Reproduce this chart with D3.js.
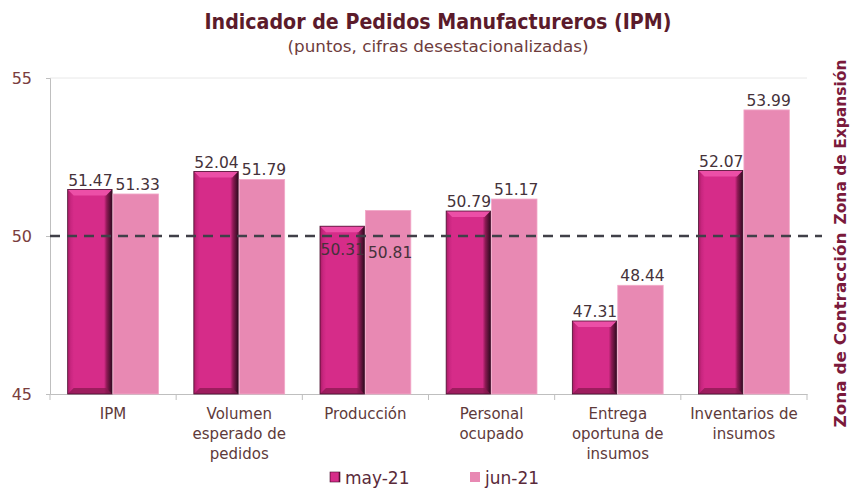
<!DOCTYPE html>
<html><head><meta charset="utf-8">
<script src="https://cdn.jsdelivr.net/npm/d3@7/dist/d3.min.js"></script>
<style>
body{margin:0;background:#fff;}
svg{display:block;font-family:"Century Gothic","DejaVu Sans",sans-serif;}
</style></head>
<body><svg id="c" width="851" height="488"></svg>
<script>
const categories = [["IPM"],["Volumen","esperado de","pedidos"],["Producción"],["Personal","ocupado"],["Entrega","oportuna de","insumos"],["Inventarios de","insumos"]];
const series = ["may-21","jun-21"];
const may21 = [51.47, 52.04, 50.31, 50.79, 47.31, 52.07];
const jun21 = [51.33, 51.79, 50.81, 51.17, 48.44, 53.99];
const yTicks = [45, 50, 55];
const threshold = 50;

const svg = d3.select("#c");
const pLeft = 50, pRight = 807, pTop = 78, pBottom = 394;
const keys = categories.map((c,i)=>"c"+i);
const x = d3.scaleBand().domain(keys).range([pLeft,pRight]).paddingInner(0.28).paddingOuter(0.14);
const xs = d3.scaleBand().domain(series).range([0,x.bandwidth()]).padding(0);
const y = d3.scaleLinear().domain([45,55]).range([pBottom,pTop]);

const defs = svg.append("defs");
const g1 = defs.append("linearGradient").attr("id","mayg").attr("x1","0").attr("x2","1").attr("y1","0").attr("y2","0");
[[0,"#a81d64"],[0.07,"#c92680"],[0.14,"#d62c89"],[0.82,"#d62c89"],[0.88,"#8e1a55"],[1,"#2e0a1e"]].forEach(([o,c])=>g1.append("stop").attr("offset",o).attr("stop-color",c));

// title
svg.append("text").attr("x",438).attr("y",29).attr("text-anchor","middle")
  .style("font-family","'DejaVu Sans Condensed','DejaVu Sans',sans-serif").style("font-weight","bold")
  .style("font-size","21.5px").attr("fill","#5b1b2b")
  .attr("textLength",467).attr("lengthAdjust","spacingAndGlyphs")
  .text("Indicador de Pedidos Manufactureros (IPM)");
svg.append("text").attr("x",438).attr("y",52).attr("text-anchor","middle")
  .style("font-size","16px").attr("fill","#6e3c3c")
  .attr("textLength",301).attr("lengthAdjust","spacingAndGlyphs")
  .text("(puntos, cifras desestacionalizadas)");

// gridline top
svg.append("line").attr("x1",pLeft).attr("x2",pRight).attr("y1",y(55)).attr("y2",y(55)).attr("stroke","#e8e8e8").attr("stroke-width",1);

// y axis
const ya = svg.append("g").attr("transform",`translate(${pLeft},0)`)
  .call(d3.axisLeft(y).tickValues(yTicks).tickSize(4).tickPadding(14).tickFormat(d3.format("d")));
ya.select(".domain").attr("stroke","#bfbfbf");
ya.selectAll(".tick line").attr("stroke","#bfbfbf");
ya.selectAll(".tick text").attr("fill","#7a3d3d").style("font-size","16px").style("font-family","'Century Gothic','DejaVu Sans',sans-serif");

// x axis
const xa = svg.append("g").attr("transform",`translate(0,${pBottom})`)
  .call(d3.axisBottom(x).tickSize(0).tickFormat(""));
xa.select(".domain").attr("stroke","#bfbfbf");
const step = x.step();
const bounds = d3.range(keys.length+1).map(i=> x(keys[0]) - x.paddingOuter()*step + i*step);
svg.append("g").selectAll("line").data(bounds).join("line")
  .attr("x1",d=>d).attr("x2",d=>d).attr("y1",pBottom).attr("y2",pBottom+6).attr("stroke","#bfbfbf");

// bars
const gb = svg.append("g");
keys.forEach((k,i)=>{
  const xm = x(k)+xs("may-21"), wm = xs.bandwidth()-1;
  const ym = y(may21[i]), hm = pBottom - ym;
  gb.append("rect").attr("x",xm).attr("y",ym).attr("width",wm).attr("height",hm).attr("fill","url(#mayg)");
  const b = 6;
  gb.append("path").attr("d",`M${xm},${ym}L${xm+wm},${ym}L${xm+wm-b},${ym+b}L${xm+b},${ym+b}Z`).attr("fill","#ec4fa7");
  gb.append("path").attr("d",`M${xm},${ym+hm}L${xm+wm},${ym+hm}L${xm+wm-b},${ym+hm-b}L${xm+b},${ym+hm-b}Z`).attr("fill","#8a1850").attr("opacity",0.75);
  gb.append("rect").attr("x",xm).attr("y",ym).attr("width",wm).attr("height",hm).attr("fill","none").attr("stroke","#4a0f30").attr("stroke-width",0.8);
  const xj = x(k)+xs("jun-21");
  gb.append("rect").attr("x",xj).attr("y",y(jun21[i])).attr("width",xs.bandwidth()).attr("height",pBottom-y(jun21[i]))
    .attr("fill","#e889b3").attr("stroke","#f2a9c8").attr("stroke-width",0.8);
});

// dashed threshold
svg.append("line").attr("x1",pLeft).attr("x2",822).attr("y1",y(threshold)).attr("y2",y(threshold))
  .attr("stroke","#404048").attr("stroke-width",2.5).attr("stroke-dasharray","10,7");

// labels
const gl = svg.append("g").style("font-size","15.5px").attr("text-anchor","middle");
keys.forEach((k,i)=>{
  const inside = may21[i] > threshold && may21[i] < threshold+0.5;
  const cm = x(k)+xs("may-21")+xs.bandwidth()/2, cj = x(k)+xs("jun-21")+xs.bandwidth()/2;
  const lm = inside ? y(threshold)+19 : y(may21[i])-4;
  const lj = inside ? y(threshold)+22 : y(jun21[i])-4;
  gl.append("text").attr("x",cm).attr("y",lm).attr("fill","#45323a").text(may21[i].toFixed(2));
  gl.append("text").attr("x",cj+2).attr("y",lj).attr("fill","#45323a").text(jun21[i].toFixed(2));
});

// category labels
const gc = svg.append("g").style("font-size","15px").attr("text-anchor","middle").attr("fill","#5e3a3a");
keys.forEach((k,i)=>{
  categories[i].forEach((line,j)=>{
    gc.append("text").attr("x",x(k)+x.bandwidth()/2).attr("y",419+j*20).text(line);
  });
});

// legend
const lg = svg.append("g").style("font-size","17px").attr("fill","#5a2a3a");
lg.append("rect").attr("x",330).attr("y",472).attr("width",10).attr("height",10).attr("fill","url(#mayg)").attr("stroke","#4a0f30").attr("stroke-width",0.6);
lg.append("text").attr("x",345).attr("y",484).text(series[0]);
lg.append("rect").attr("x",470).attr("y",472).attr("width",10).attr("height",10).attr("fill","#e889b3");
lg.append("text").attr("x",485).attr("y",484).text(series[1]);

// right zone labels
const zl = svg.append("g").style("font-weight","bold").style("font-size","15.5px").attr("fill","#7a1a3c");
zl.append("text").attr("transform","translate(846,330) rotate(-90)").attr("text-anchor","middle")
  .attr("textLength",195).attr("lengthAdjust","spacingAndGlyphs").text("Zona de Contracción");
zl.append("text").attr("transform","translate(846,142) rotate(-90)").attr("text-anchor","middle")
  .attr("textLength",165).attr("lengthAdjust","spacingAndGlyphs").text("Zona de Expansión");
</script></body></html>
